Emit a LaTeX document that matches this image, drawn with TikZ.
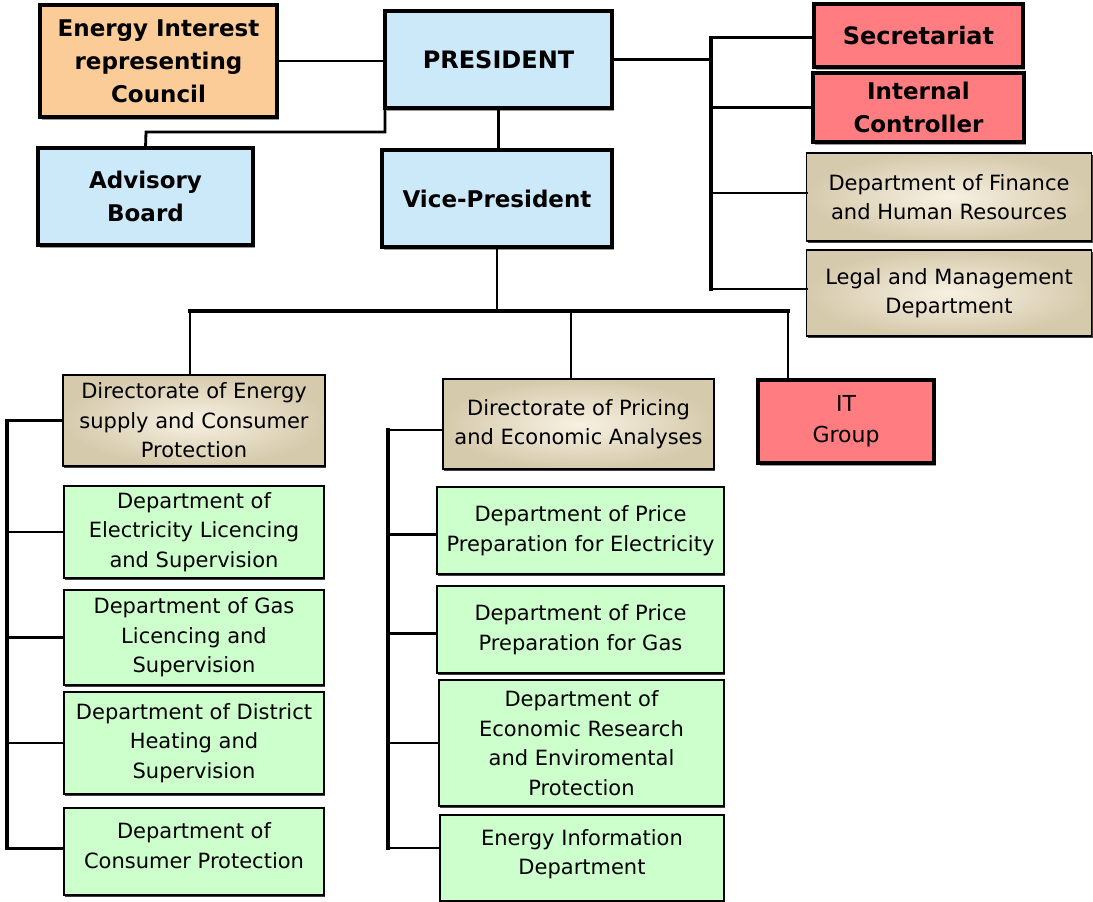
\documentclass[tikz,border=0pt]{standalone}
\usepackage{fontspec}
\setmainfont{DejaVu Sans}
\usetikzlibrary{positioning, calc, shadows}
\definecolor{presblue}{RGB}{204, 233, 250}
\definecolor{councilorange}{RGB}{251, 203, 152}
\definecolor{staffred}{RGB}{255, 124, 128}
\definecolor{deptgreen}{RGB}{204, 255, 204}
\definecolor{dirbeigein}{RGB}{247, 241, 226}
\definecolor{dirbeigeout}{RGB}{214, 202, 172}
\tikzset{
    orgbox/.style={draw, rectangle, align=center, inner sep=2pt, outer sep=0pt},
    headbox/.style={orgbox, line width=2pt, font=\fontsize{11.5}{16.5}\selectfont\bfseries,
        drop shadow={shadow xshift=1.2pt, shadow yshift=-1.5pt, fill=gray!80, opacity=1}},
    bluebox/.style={headbox, fill=presblue},
    orangebox/.style={headbox, fill=councilorange},
    redbox/.style={headbox, fill=staffred},
    itbox/.style={redbox, font=\fontsize{11}{15.5}\selectfont},
    thinbox/.style={orgbox, line width=0.9pt, font=\fontsize{10.5}{14.75}\selectfont,
        drop shadow={shadow xshift=0.6pt, shadow yshift=-1.1pt, fill=black!75, opacity=1}},
    dirbox/.style={thinbox, shading=radial, inner color=dirbeigein, outer color=dirbeigeout},
    deptbox/.style={thinbox, fill=deptgreen},
    link/.style={line width=1.4pt, line cap=rect},
    bus/.style={line width=1.6pt, line cap=rect},
}
\begin{document}
\begin{tikzpicture}[x=0.5pt, y=-0.5pt]
    \useasboundingbox (0,0) rectangle (1093,901);

    % top management
    \node[orangebox, minimum width=118.5pt, minimum height=56pt] (council) at (158.5,61)
          {Energy Interest\\representing\\Council};
    \node[bluebox, minimum width=113.5pt, minimum height=48.5pt, font=\fontsize{12}{16}\selectfont\bfseries] (president) at (498.5,59.5)
          {PRESIDENT};
    \node[bluebox, minimum width=107.5pt, minimum height=48.5pt] (advisory) at (145.5,196.5)
          {Advisory\\Board};
    \node[bluebox, minimum width=115pt, minimum height=48.5pt] (vice) at (497,198.5)
          {Vice-President};

    % staff units
    \node[redbox, minimum width=104.5pt, minimum height=31.5pt, font=\fontsize{12}{16}\selectfont\bfseries] (secretariat) at (918.5,35.5)
          {Secretariat};
    \node[redbox, minimum width=105.5pt, minimum height=34.5pt] (internal) at (918.5,107.5)
          {Internal\\Controller};
    \node[dirbox, minimum width=142.5pt, minimum height=44pt] (finance) at (949,197)
          {Department of Finance\\and Human Resources};
    \node[dirbox, minimum width=142.5pt, minimum height=43pt] (legal) at (949,293)
          {Legal and Management\\Department};

    % directorates
    \node[dirbox, minimum width=131pt, minimum height=45.5pt] (dirsupply) at (194,420.5)
          {Directorate of Energy\\supply and Consumer\\Protection};
    \node[dirbox, minimum width=135.5pt, minimum height=45pt] (dirpricing) at (578.5,424)
          {Directorate of Pricing\\and Economic Analyses};
    \node[itbox, minimum width=88pt, minimum height=41.5pt] (itgroup) at (846,421.5)
          {IT\\Group};

    % departments, left column
    \node[deptbox, minimum width=130pt, minimum height=46pt] (electricity) at (194,532)
          {Department of\\Electricity Licencing\\and Supervision};
    \node[deptbox, minimum width=130pt, minimum height=47.5pt] (gas) at (194,637.5)
          {Department of Gas\\Licencing and\\Supervision};
    \node[deptbox, minimum width=130pt, minimum height=51pt] (district) at (194,743)
          {Department of District\\Heating and\\Supervision};
    \node[deptbox, minimum width=130pt, minimum height=43.5pt, text depth=6pt] (consumer) at (194,851.5)
          {Department of\\Consumer Protection};

    % departments, right column
    \node[deptbox, minimum width=143.5pt, minimum height=43.5pt] (priceelec) at (580.5,530.5)
          {Department of Price\\Preparation for Electricity};
    \node[deptbox, minimum width=143.5pt, minimum height=43.5pt] (pricegas) at (580.5,629.5)
          {Department of Price\\Preparation for Gas};
    \node[deptbox, minimum width=142.5pt, minimum height=63pt] (economic) at (581.5,743)
          {Department of\\Economic Research\\and Enviromental\\Protection};
    \node[deptbox, minimum width=142pt, minimum height=43pt, text depth=6pt] (energyinfo) at (582,858)
          {Energy Information\\Department};

    % connectors at the top
    \draw[link] (council.east) -- (council.east -| president.west);
    \coordinate (advknee) at (146,132);
    \draw[link] (president.south west) |- (advknee) -- (advisory.north);
    \draw[link] (president.south) -- (president.south |- vice.north);

    % staff bus
    \coordinate (staffbus) at (711,61);
    \draw[link] (president.east) -- (president.east -| staffbus);
    \draw[bus] ([yshift=-1pt]staffbus |- secretariat.west) -- ([yshift=2pt]staffbus |- legal.west);
    \draw[link] ([yshift=-1pt]staffbus |- secretariat.west) -- ([yshift=-1pt]secretariat.west);
    \draw[link] (staffbus |- internal.west) -- (internal.west);
    \draw[link] ([yshift=2pt]staffbus |- finance.west) -- ([yshift=2pt]finance.west);
    \draw[link] ([yshift=2pt]staffbus |- legal.west) -- ([yshift=2pt]legal.west);

    % directorate bus
    \coordinate (dirbus) at (498,311);
    \coordinate (drop1) at (190,311);
    \coordinate (drop2) at (571,311);
    \coordinate (drop3) at (788,311);
    \draw[link] (vice.south) -- (vice.south |- dirbus);
    \draw[bus] (drop1) -- (drop3);
    \draw[link] (drop1) -- (drop1 |- dirsupply.north);
    \draw[link] (drop2) -- (drop2 |- dirpricing.north);
    \draw[link] (drop3) -- (drop3 |- itgroup.north);

    % department buses
    \coordinate (leftbus) at (7,0);
    \coordinate (rightbus) at (388,0);
    \draw[bus] (leftbus |- dirsupply.west) -- ([yshift=1.5pt]leftbus |- consumer.west);
    \foreach \n in {dirsupply, electricity, gas, district}
        \draw[link] (leftbus |- \n.west) -- (\n.west);
    \draw[link] ([yshift=1.5pt]leftbus |- consumer.west) -- ([yshift=1.5pt]consumer.west);
    \draw[bus] ([yshift=-3pt]rightbus |- dirpricing.west) -- ([yshift=5pt]rightbus |- energyinfo.west);
    \draw[link] ([yshift=-3pt]rightbus |- dirpricing.west) -- ([yshift=-3pt]dirpricing.west);
    \draw[link] ([yshift=-2pt]rightbus |- priceelec.west) -- ([yshift=-2pt]priceelec.west);
    \draw[link] ([yshift=-2pt]rightbus |- pricegas.west) -- ([yshift=-2pt]pricegas.west);
    \draw[link] (rightbus |- economic.west) -- (economic.west);
    \draw[link] ([yshift=5pt]rightbus |- energyinfo.west) -- ([yshift=5pt]energyinfo.west);
\end{tikzpicture}
\end{document}
